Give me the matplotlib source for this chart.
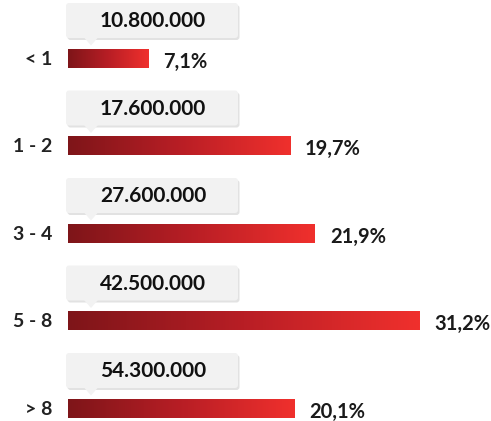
import numpy as np
import matplotlib
matplotlib.use("Agg")
import matplotlib.pyplot as plt
from matplotlib.patches import FancyBboxPatch, Polygon
from matplotlib.colors import LinearSegmentedColormap

# --- Data ---
categories = ["< 1", "1 - 2", "3 - 4", "5 - 8", "> 8"]
shares = [7.1, 19.7, 21.9, 31.2, 20.1]
counts = ["10.800.000", "17.600.000", "27.600.000", "42.500.000", "54.300.000"]
share_labels = ["7,1%", "19,7%", "21,9%", "31,2%", "20,1%"]

W, H = 491, 421
px_per_unit = 11.27      # horizontal pixels per percent
row_px = 87.5            # vertical pixels per row
x0_px, y0_px = 68, 58.5  # pixel position of bar origin / first bar center

plt.rcParams['font.family'] = ['Lato', 'DejaVu Sans']

fig = plt.figure(figsize=(W / 100, H / 100), dpi=100)
ax = fig.add_axes([0, 0, 1, 1])
ax.set_xlim(-x0_px / px_per_unit, (W - x0_px) / px_per_unit)
ax.set_ylim((H - y0_px) / row_px, -y0_px / row_px)
ax.axis("off")

cmap = LinearSegmentedColormap.from_list("reds", ["#7e1519", "#b81e25", "#f0302d"])
grad = np.linspace(0, 1, 256).reshape(1, -1)

xu = 1 / px_per_unit  # one pixel in x data units
yu = 1 / row_px       # one pixel in y data units
bar_h = 19 * yu

for i, (cat, v, cnt, lab) in enumerate(zip(categories, shares, counts, share_labels)):
    bars = ax.barh(i, v, height=bar_h, color="none", edgecolor="none")
    rect = bars.patches[0]
    im = ax.imshow(grad, cmap=cmap, aspect="auto",
                   extent=(0, v, i + bar_h / 2, i - bar_h / 2), zorder=2)
    im.set_clip_path(rect)

    # category label
    ax.text(-16 * xu, i + 1 * yu, cat, ha="right", va="center",
            fontsize=14, fontweight="bold", color="#222222")
    # percentage label
    ax.text(v + 15 * xu, i + 3 * yu, lab, ha="left", va="center",
            fontsize=14.5, fontweight="bold", color="#1a1a1a")

    # callout box with pointer
    bx0, bw = -2 * xu, 172 * xu
    by_top, bh = i - 55.5 * yu, 35 * yu
    for dx, dy, fc, z in [(1.5, 2, "#e2e2e2", 3), (0, 0, "#f2f2f2", 4)]:
        ax.add_patch(FancyBboxPatch((bx0 + dx * xu, by_top + dy * yu), bw, bh,
                                    boxstyle="round,pad=0,rounding_size=%f" % (3 * xu),
                                    mutation_aspect=yu / xu,
                                    facecolor=fc, edgecolor="none", zorder=z))
    tri_base = by_top + bh - 0.5 * yu
    ax.add_patch(Polygon([(16 * xu, tri_base), (30 * xu, tri_base), (23 * xu, i - 13 * yu)],
                         closed=True, facecolor="#f2f2f2", edgecolor="none", zorder=4))
    ax.text(85 * xu, i - 37 * yu, cnt, ha="center", va="center",
            fontsize=15, fontweight="bold", color="#111111", zorder=5)

fig.savefig("out.png", dpi=100)
